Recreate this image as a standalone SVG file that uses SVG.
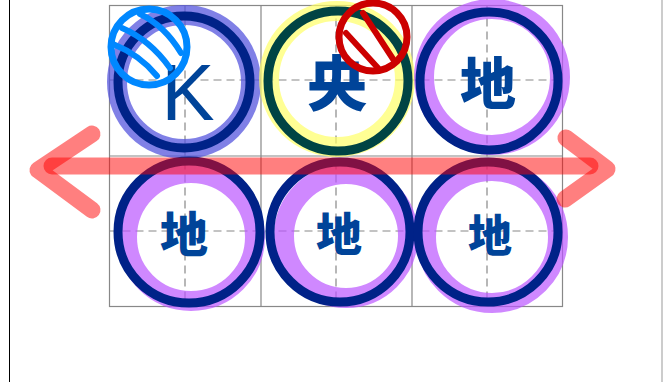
<svg xmlns="http://www.w3.org/2000/svg" width="663" height="382" viewBox="0 0 663 382">
<style>
.grid{fill:none;stroke:#888;stroke-width:1.2}
.dash{stroke:#888;stroke-width:1.2;stroke-dasharray:8 5;fill:none}
.halo{fill:none;stroke-width:20}
.ring{fill:none;stroke-width:9}
.t{font-family:"Noto Sans CJK SC","Noto Sans CJK JP",sans-serif;font-weight:900;fill:#004499;text-anchor:middle}
.k{font-family:"Liberation Sans",sans-serif;font-weight:400;fill:#004499;text-anchor:middle}
.arrow{fill:none;stroke:#ff0000;stroke-opacity:0.5;stroke-width:17;stroke-linecap:round;stroke-linejoin:round}
</style>
<rect width="663" height="382" fill="#fff"/>
<line x1="9.5" y1="0" x2="9.5" y2="382" stroke="#000" stroke-width="1"/>
<line x1="662" y1="0" x2="662" y2="382" stroke="#999" stroke-width="1"/>
<g id="grid">
<rect class="grid" x="109.5" y="5.5" width="453" height="301"/>
<line class="grid" x1="261" y1="5.5" x2="261" y2="306.5"/>
<line class="grid" x1="412" y1="5.5" x2="412" y2="306.5"/>
<line class="grid" x1="109.5" y1="156" x2="562.5" y2="156"/>
<line class="dash" x1="185" y1="5.5" x2="185" y2="306.5"/>
<line class="dash" x1="336" y1="5.5" x2="336" y2="306.5"/>
<line class="dash" x1="487" y1="5.5" x2="487" y2="306.5"/>
<line class="dash" x1="109.5" y1="80" x2="562.5" y2="80"/>
<line class="dash" x1="109.5" y1="231" x2="562.5" y2="231"/>
</g>
<g id="node-tl">
<circle class="halo" cx="184" cy="82" r="67" stroke="#5555dd" stroke-opacity="0.75"/>
<circle class="ring" cx="184" cy="82" r="66" stroke="#002288"/>
<text class="k" x="188" y="120" font-size="80">K</text>
</g>
<g id="node-tc">
<circle class="halo" cx="337" cy="79" r="68" stroke="#ffff66" stroke-opacity="0.7"/>
<circle class="ring" cx="338" cy="81" r="70" stroke="#004444"/>
<text class="t" x="337" y="106" font-size="60">央</text>
</g>
<g id="node-tr">
<circle class="halo" cx="492" cy="77" r="68" stroke="#bb55ff" stroke-opacity="0.7"/>
<circle class="ring" cx="489" cy="81" r="69" stroke="#002288"/>
<text class="t" x="488" y="104" font-size="56">地</text>
</g>
<g id="node-bl">
<circle class="halo" cx="191" cy="237" r="64" stroke="#bb55ff" stroke-opacity="0.7"/>
<circle class="ring" cx="189" cy="232" r="71" stroke="#002288"/>
<text class="t" x="184" y="252" font-size="48">地</text>
</g>
<g id="node-bc">
<circle class="halo" cx="346" cy="236" r="62" stroke="#bb55ff" stroke-opacity="0.7"/>
<circle class="ring" cx="340" cy="232" r="70" stroke="#002288"/>
<text class="t" x="339" y="251" font-size="46">地</text>
</g>
<g id="node-br">
<circle class="halo" cx="492" cy="237" r="66" stroke="#bb55ff" stroke-opacity="0.7"/>
<circle class="ring" cx="488" cy="232" r="70" stroke="#002288"/>
<text class="t" x="490" y="252" font-size="44">地</text>
</g>
<g id="marker-blue">
<circle cx="149" cy="47" r="38" fill="none" stroke="#0088ff" stroke-width="7"/>
<g fill="none" stroke="#0088ff" stroke-width="6" stroke-linecap="round">
<path d="M140 14 Q165 26 181 53"/>
<path d="M122 28 Q150 40 170 68"/>
<path d="M113 44 Q140 55 157 76"/>
</g>
</g>
<g id="marker-red">
<circle cx="373" cy="37" r="34" fill="none" stroke="#cc0000" stroke-width="7"/>
<g fill="none" stroke="#cc0000" stroke-width="6" stroke-linecap="round">
<line x1="363" y1="13" x2="393" y2="59"/>
<line x1="346" y1="33" x2="378" y2="68"/>
</g>
</g>
<g id="connectors">
<line class="arrow" x1="52" y1="166" x2="590" y2="166"/>
<polyline class="arrow" points="92,134 38,170 92,210"/>
<polyline class="arrow" points="566,138 607,169 565,199"/>
</g>
</svg>
